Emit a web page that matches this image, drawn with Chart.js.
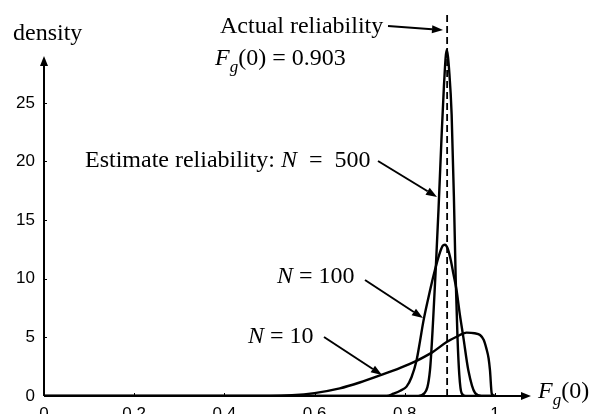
<!DOCTYPE html>
<html>
<head>
<meta charset="utf-8">
<script src="https://cdn.jsdelivr.net/npm/chart.js@4"></script>
<style>
  html, body { margin: 0; padding: 0; background: #fff; overflow: hidden; }
  #wrap { width: 595px; height: 414px; }
</style>
</head>
<body>
<div id="wrap"><canvas id="chart" width="595" height="414"></canvas></div>
<script>
// ── Data ──────────────────────────────────────────────────────────
// density of the estimated reliability F_g(0)

const n10X  = [0, 0.5, 0.55, 0.6, 0.656, 0.7, 0.748, 0.79, 0.826, 0.86, 0.893, 0.915, 0.937, 0.955, 0.967, 0.975, 0.981, 0.986, 0.989, 0.993, 1.0];
const n10Y  = [0, 0, 0.06, 0.25, 0.65, 1.15, 1.8, 2.4, 3.0, 3.7, 4.6, 5.05, 5.4, 5.35, 5.2, 4.8, 4.06, 3.2, 2.2, 0.2, 0];

const n100X = [0, 0.76, 0.775, 0.79, 0.804, 0.815, 0.826, 0.834, 0.841, 0.852, 0.864, 0.876, 0.884, 0.889, 0.895, 0.902, 0.908, 0.915, 0.922, 0.93, 0.941, 0.956, 0.97, 1.0];
const n100Y = [0, 0, 0.2, 0.45, 0.8, 1.6, 3.0, 4.7, 6.3, 8.3, 10.3, 12.0, 12.8, 12.9, 12.6, 11.6, 10.4, 9.0, 7.0, 5.0, 2.2, 0.25, 0, 0];

const n500X = [0, 0.83, 0.844, 0.856, 0.863, 0.869, 0.875, 0.881, 0.887, 0.893, 0.899, 0.904, 0.909, 0.913, 0.917, 0.921, 0.926, 0.935, 1.0];
const n500Y = [0, 0, 0.25, 2.2, 6.5, 11, 16, 21.5, 26.5, 29.5, 27.5, 24, 17, 10, 5, 1.8, 0.25, 0, 0];

// actual reliability marker (drawn where the figure shows it)
const actualX = [0.894, 0.894];
const actualY = [0, 32.6];

const xTicks = [0, 0.2, 0.4, 0.6, 0.8, 1];
const yTicks = [0, 5, 10, 15, 20, 25];

// ── Helpers ───────────────────────────────────────────────────────

function _pts(xs, ys) {
  return xs.map((x, i) => ({ x, y: ys[i] }));
}

function _curve(xs, ys) {
  return {
    data: _pts(xs, ys),
    borderColor: '#000',
    borderWidth: 2.4,
    pointRadius: 0,
    fill: false,
    cubicInterpolationMode: 'monotone'
  };
}

const SERIF = '"Liberation Serif", "Times New Roman", serif';
const SANS  = '"Liberation Sans", Arial, sans-serif';

// draws a run of text pieces: {t, it (italic), sub (subscript)}
function _rich(ctx, parts, x, y, size) {
  ctx.textBaseline = 'alphabetic';
  ctx.textAlign = 'left';
  parts.forEach(p => {
    const fs = p.sub ? Math.round(size * 0.7) : size;
    ctx.font = (p.it ? 'italic ' : '') + fs + 'px ' + SERIF;
    ctx.fillText(p.t, x, p.sub ? y + size * 0.28 : y);
    x += ctx.measureText(p.t).width;
  });
}

function _arrow(ctx, x1, y1, x2, y2, head, half) {
  const a = Math.atan2(y2 - y1, x2 - x1);
  const bx = x2 - head * Math.cos(a), by = y2 - head * Math.sin(a);
  ctx.beginPath();
  ctx.moveTo(x1, y1);
  ctx.lineTo(bx, by);
  ctx.stroke();
  ctx.beginPath();
  ctx.moveTo(x2, y2);
  ctx.lineTo(bx + half * Math.sin(a), by - half * Math.cos(a));
  ctx.lineTo(bx - half * Math.sin(a), by + half * Math.cos(a));
  ctx.closePath();
  ctx.fill();
}

// ── Axes + annotations plugin ─────────────────────────────────────

const annotate = {
  id: 'annotate',
  afterDatasetsDraw(chart) {
    const ctx = chart.ctx;
    const sx = chart.scales.x, sy = chart.scales.y;
    const x0 = sx.getPixelForValue(0), y0 = sy.getPixelForValue(0);
    ctx.save();
    ctx.strokeStyle = '#000';
    ctx.fillStyle = '#000';

    // axes with arrow heads
    ctx.lineWidth = 2;
    _arrow(ctx, x0, y0, x0, sy.getPixelForValue(29), 10, 4);
    _arrow(ctx, x0, y0, sx.getPixelForValue(1.08), y0, 10, 4);

    // small inward tick marks
    ctx.lineWidth = 1;
    yTicks.slice(1).forEach(v => {
      const p = Math.round(sy.getPixelForValue(v)) + 0.5;
      ctx.beginPath(); ctx.moveTo(x0, p); ctx.lineTo(x0 + 3, p); ctx.stroke();
    });
    xTicks.slice(1).forEach(v => {
      const p = Math.round(sx.getPixelForValue(v)) + 0.5;
      ctx.beginPath(); ctx.moveTo(p, y0); ctx.lineTo(p, y0 - 3); ctx.stroke();
    });

    // axis titles
    _rich(ctx, [{ t: 'density' }], 13, 40, 24);
    _rich(ctx, [{ t: 'F', it: true }, { t: 'g', it: true, sub: true }, { t: '(0)' }], 538, 398, 24);

    // labels
    _rich(ctx, [{ t: 'Actual reliability' }], 220, 33, 24);
    _rich(ctx, [{ t: 'F', it: true }, { t: 'g', it: true, sub: true }, { t: '(0) = 0.903' }], 215, 65, 24);
    _rich(ctx, [{ t: 'Estimate reliability: ' }, { t: 'N', it: true }, { t: '  =  500' }], 85, 167, 24);
    _rich(ctx, [{ t: 'N', it: true }, { t: ' = 100' }], 277, 283, 24);
    _rich(ctx, [{ t: 'N', it: true }, { t: ' = 10' }], 248, 343, 24);

    // pointer arrows
    ctx.lineWidth = 2;
    _arrow(ctx, 388, 26, 443, 30, 11, 4);
    _arrow(ctx, 378, 161, 437, 197, 11, 4);
    _arrow(ctx, 365, 280, 423, 318, 11, 4);
    _arrow(ctx, 324, 337, 382, 375, 11, 4);
    ctx.restore();
  }
};

// ── Chart ─────────────────────────────────────────────────────────

const dashed = {
  data: _pts(actualX, actualY),
  borderColor: '#000',
  borderWidth: 1.8,
  borderDash: [7, 4],
  pointRadius: 0,
  fill: false
};

new Chart(document.getElementById('chart'), {
  type: 'line',
  data: {
    datasets: [_curve(n10X, n10Y), _curve(n100X, n100Y), _curve(n500X, n500Y), dashed]
  },
  options: {
    responsive: false,
    animation: false,
    events: [],
    layout: { padding: { left: 0, right: 64, top: 9, bottom: 0 } },
    plugins: { legend: { display: false }, tooltip: { enabled: false } },
    scales: {
      x: {
        type: 'linear',
        min: 0,
        max: 1.08,
        afterFit(s) { s.height = 18; s.paddingLeft = 0; s.paddingRight = 0; },
        afterBuildTicks(s) { s.ticks = xTicks.map(v => ({ value: v })); },
        grid: { display: false, drawTicks: false },
        border: { display: false },
        ticks: {
          padding: 8,
          maxRotation: 0,
          autoSkip: false,
          color: '#000',
          font: { family: SANS, size: 17 },
          callback: v => String(Number(v.toFixed(1)))
        }
      },
      y: {
        min: 0,
        max: 33,
        afterFit(s) { s.width = 44; s.paddingTop = 0; s.paddingBottom = 0; },
        afterBuildTicks(s) { s.ticks = yTicks.map(v => ({ value: v })); },
        grid: { display: false, drawTicks: false },
        border: { display: false },
        ticks: {
          padding: 9,
          color: '#000',
          font: { family: SANS, size: 17 }
        }
      }
    }
  },
  plugins: [annotate]
});
</script>
</body>
</html>
